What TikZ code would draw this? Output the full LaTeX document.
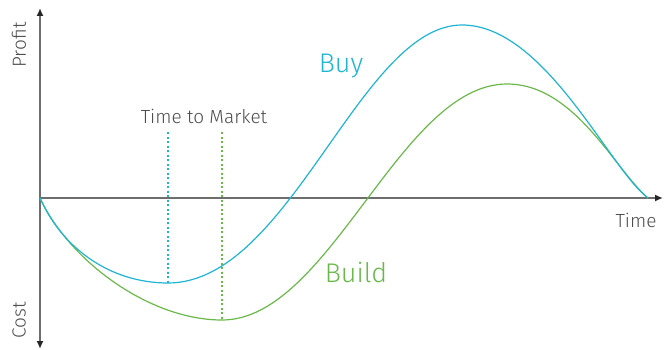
\documentclass[tikz,border=0pt]{standalone}
\usepackage{fontspec}
\setmainfont{Fira Sans Light}
\usepackage{tikz}
\usetikzlibrary{arrows.meta}

\definecolor{axisgray}{HTML}{6E6E6E}
\definecolor{buyblue}{HTML}{1FB4D4}
\definecolor{buildgreen}{HTML}{6AB84A}

\begin{document}
\begin{tikzpicture}[x=1pt, y=-1pt,
	axis/.style={line width=1.6pt, draw=axisgray, -{Latex[length=8pt,width=7pt,color=black!85]}},
	curve/.style={line width=1.2pt},
	marker/.style={line width=1.2pt, dash pattern=on 2pt off 2.5pt}]

	\useasboundingbox (0,0) rectangle (671,350);

% Define coordinates.

	%axes
	\coordinate (origin) at (40,198);
	\coordinate (top) at (40,8);
	\coordinate (bottom) at (40,349);
	\coordinate (right) at (663,198);

	%buy curve
	\coordinate (buyMin) at (168,283);
	\coordinate (buyMax) at (462,25);
	\coordinate (end) at (648,198);

	%build curve
	\coordinate (buildMin) at (222,320);
	\coordinate (buildMax) at (507,84);

	%time to market
	\coordinate (buyTop) at (168,132);
	\coordinate (buildTop) at (222,132);

% Draw axes.

	\draw[axis] (origin) -- (top);
	\draw[axis] (origin) -- (bottom);
	\draw[axis] (origin) -- (right);

% Draw lines.

	\draw[marker, buyblue] (buyTop) -- (buyMin);
	\draw[marker, buildgreen] (buildTop) -- (buildMin);

	\draw[curve, buildgreen] (origin) .. controls (70,262) and (150,320) .. (buildMin)
		.. controls (330,320) and (400,84) .. (buildMax)
		.. controls (575,84) and (615,170) .. (end);

	\draw[curve, buyblue] (origin) .. controls (62,248) and (110,283) .. (buyMin)
		.. controls (290,283) and (360,25) .. (buyMax)
		.. controls (545,25) and (610,170) .. (end);

% Draw labels.

	\node[rotate=90, font=\fontsize{19}{22}\selectfont, text=axisgray!70!black] (profit) at (19,45) {Profit};
	\node[rotate=90, font=\fontsize{19}{22}\selectfont, text=axisgray!70!black] (cost) at (19,320) {Cost};
	\node[font=\fontsize{19}{22}\selectfont, text=axisgray!70!black] (time) at (636,220) {Time};
	\node[font=\fontsize{19}{22}\selectfont, text=axisgray!70!black] (ttm) at (204,116) {Time to Market};

	\node[font=\fontsize{27}{30}\selectfont, text=buyblue] (buy) at (341,66) {Buy};
	\node[font=\fontsize{27}{30}\selectfont, text=buildgreen] (build) at (356,272) {Build};

\end{tikzpicture}
\end{document}
